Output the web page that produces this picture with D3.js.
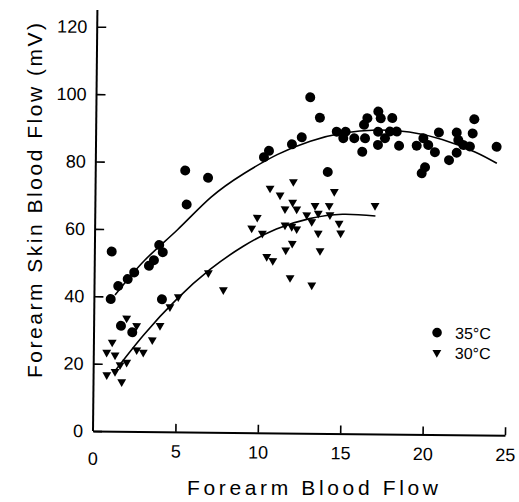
<!DOCTYPE html>
<html>
<head>
<meta charset="utf-8">
<script src="https://cdn.jsdelivr.net/npm/d3@7"></script>
<style>
  body { margin: 0; background: #fff; }
  text { font-family: "Liberation Sans", Arial, sans-serif; fill: #000; }
</style>
</head>
<body>
<div id="chart"></div>
<script>
// 35 degC readings (filled circles)
var warmX = [1.02, 0.99, 1.44, 2.01, 2.40, 3.29, 3.59, 3.90, 4.12, 4.10, 5.54, 1.63, 2.32, 5.43, 6.82,
  12.97, 13.57, 12.48, 11.89, 10.50, 10.20, 14.08, 14.60, 15.14, 15.00, 15.67, 16.32, 16.16, 16.25, 16.45,
  17.11, 17.11, 17.11, 17.26, 17.96, 17.83, 18.24, 17.53, 18.39, 19.46, 19.86, 20.16, 20.57, 20.80, 19.98,
  19.78, 21.43, 21.89, 21.88, 21.98, 22.29, 22.69, 22.85, 22.94, 24.31];
var warmY = [53.3, 39.2, 43.1, 45.2, 47.2, 49.2, 50.9, 55.4, 53.3, 39.3, 67.5, 31.3, 29.4, 77.6, 75.5,
  99.7, 93.7, 87.8, 85.7, 83.7, 81.8, 77.6, 89.6, 89.6, 87.7, 87.7, 87.7, 83.7, 91.7, 93.7,
  95.7, 89.7, 85.8, 93.7, 93.8, 89.8, 89.8, 87.8, 85.6, 85.7, 87.9, 85.9, 83.8, 89.7, 79.3,
  77.5, 81.5, 83.7, 89.7, 87.5, 86.0, 85.6, 89.5, 93.7, 85.6];

// 30 degC readings (down triangles)
var coolX = [1.97, 2.58, 4.00, 1.11, 3.54, 0.78, 1.29, 2.60, 3.00, 2.00, 1.30, 0.80, 1.71, 1.60,
  4.59, 5.09, 6.90, 7.82, 11.51, 11.97, 12.22, 13.33, 14.19, 16.97, 9.83, 9.50, 10.15, 11.52, 11.93,
  12.23, 12.83, 13.14, 13.53, 14.24, 14.80, 13.54, 14.90, 11.97, 11.58, 13.66, 10.43, 10.80, 11.86,
  13.18, 10.59, 12.00, 11.20, 14.49];
var coolY = [33.6, 31.4, 31.5, 26.4, 27.2, 23.4, 22.6, 24.2, 23.5, 20.5, 17.7, 16.7, 14.7, 19.7,
  37.1, 40.1, 47.3, 42.3, 66.5, 68.5, 66.5, 67.6, 67.6, 67.8, 63.9, 60.7, 59.2, 61.7, 61.3,
  60.6, 64.8, 62.8, 65.3, 64.9, 62.4, 59.4, 59.5, 56.3, 54.3, 54.2, 52.3, 51.1, 46.1,
  44.0, 72.6, 74.6, 70.6, 71.8];

// fitted curves
var warmFitX = [1.25, 3, 5, 7, 9, 11, 13, 15, 17, 19, 21, 23, 24.33];
var warmFitY = [40.4, 50.7, 60.0, 69.7, 76.9, 82.6, 86.7, 89.2, 90.2, 89.7, 87.6, 84.0, 80.7];
var coolFitX = [1.2, 3, 5, 7, 9, 11, 13, 15, 17];
var coolFitY = [17.3, 28.6, 39.4, 48.3, 55.3, 60.5, 63.7, 65.1, 64.7];

var xTicks = [0, 5, 10, 15, 20, 25];
var yTicks = [0, 20, 40, 60, 80, 100, 120];
var legendLabels = ["35°C", "30°C"];

var svgWidth = 519, svgHeight = 502;
var x0 = 93, y0 = 431;   // axis corner

var svg = d3.select("#chart").append("svg")
  .attr("width", svgWidth)
  .attr("height", svgHeight);

// the scanned figure is tilted a little clockwise
var chart = svg.append("g")
  .attr("transform", `rotate(0.6, ${x0}, ${y0})`);

var x = d3.scaleLinear().domain([0, 25]).range([x0, 505]);
var y = d3.scaleLinear().domain([0, 120]).range([y0, 26.7]);

// x axis
var xAxis = chart.append("g")
  .attr("transform", `translate(0, ${y0})`)
  .call(d3.axisBottom(x).tickValues(xTicks.slice(1)).tickSize(-8).tickSizeOuter(0).tickPadding(13).tickFormat(d3.format("d")));
xAxis.select(".domain").attr("stroke-width", 2);
xAxis.selectAll(".tick line").attr("stroke-width", 1.6);
xAxis.selectAll("text").attr("font-size", 18).attr("fill", "#000");
xAxis.append("text")
  .attr("x", x(0)).attr("y", 21)
  .attr("dy", "0.71em")
  .attr("text-anchor", "middle").attr("font-size", 18)
  .text("0");

// y axis
var yAxis = chart.append("g")
  .attr("transform", `translate(${x0}, 0)`)
  .call(d3.axisLeft(y).tickValues(yTicks).tickSize(-9).tickPadding(10));
yAxis.select(".domain").remove();
yAxis.selectAll(".tick line").attr("stroke-width", 1.6);
yAxis.selectAll("text").attr("font-size", 18).attr("fill", "#000");
chart.append("line")
  .attr("x1", x0).attr("x2", x0)
  .attr("y1", y0).attr("y2", 10)
  .attr("stroke", "#000").attr("stroke-width", 2);

// axis titles (kept level)
svg.append("text")
  .attr("x", 187).attr("y", 495)
  .attr("font-size", 21)
  .attr("textLength", 251).attr("lengthAdjust", "spacing")
  .text("Forearm Blood Flow");

svg.append("text")
  .attr("transform", "translate(42, 378) rotate(-90)")
  .attr("font-size", 21)
  .attr("textLength", 355).attr("lengthAdjust", "spacing")
  .text("Forearm Skin Blood Flow (mV)");

// fitted curves
var fitLine = d3.line()
  .x(d => x(d[0]))
  .y(d => y(d[1]))
  .curve(d3.curveNatural);

chart.append("path")
  .attr("d", fitLine(d3.zip(warmFitX, warmFitY)))
  .attr("fill", "none").attr("stroke", "#000").attr("stroke-width", 1.6);
chart.append("path")
  .attr("d", fitLine(d3.zip(coolFitX, coolFitY)))
  .attr("fill", "none").attr("stroke", "#000").attr("stroke-width", 1.6);

// points
chart.append("g").selectAll("circle")
  .data(d3.zip(warmX, warmY))
  .enter()
  .append("circle")
  .attr("cx", d => x(d[0]))
  .attr("cy", d => y(d[1]))
  .attr("r", 5)
  .attr("fill", "#000");

var tri = d3.symbol().type(d3.symbolTriangle).size(34);
chart.append("g").selectAll("path")
  .data(d3.zip(coolX, coolY))
  .enter()
  .append("path")
  .attr("d", tri)
  .attr("transform", d => `translate(${x(d[0])}, ${y(d[1])}) rotate(180)`)
  .attr("fill", "#000");

// legend
var legend = chart.append("g").attr("transform", "translate(436, 329)");
legend.append("circle").attr("cx", 0).attr("cy", 0).attr("r", 4.8).attr("fill", "#000");
legend.append("path").attr("d", tri).attr("transform", "translate(0, 20) rotate(180)").attr("fill", "#000");
legend.selectAll("text")
  .data(legendLabels)
  .enter()
  .append("text")
  .attr("x", 18)
  .attr("y", (d, i) => i * 20 + 6)
  .attr("font-size", 16)
  .text(d => d);
</script>
</body>
</html>
